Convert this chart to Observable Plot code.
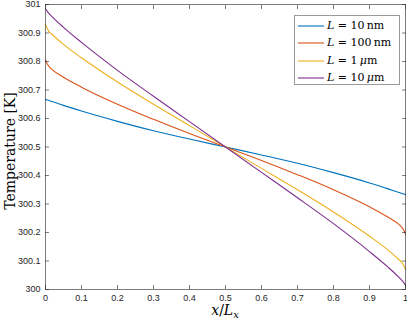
<!DOCTYPE html>
<html><head><meta charset="utf-8">
<script src="https://cdn.jsdelivr.net/npm/d3@7"></script>
<script src="https://cdn.jsdelivr.net/npm/@observablehq/plot@0.6"></script>
<style>
body{margin:0;background:#fff;}
#wrap{position:relative;width:407px;height:321px;overflow:hidden;}
.serif{font-family:"DejaVu Serif","Liberation Serif",serif;color:#000;}
#ylab{position:absolute;left:-90px;top:144px;width:200px;height:14px;line-height:14px;text-align:center;font-size:14px;transform:rotate(-90deg);white-space:nowrap;}
#xlab{position:absolute;left:175px;top:303px;width:100px;text-align:center;font-size:14px;line-height:14px;white-space:nowrap;}
#legend{position:absolute;left:294px;top:15px;width:106px;height:70px;background:#fff;border:1px solid #9a9a9a;box-sizing:border-box;}
.row{position:absolute;left:0;height:16px;width:106px;}
.row svg{position:absolute;left:3px;top:0;}
.row span.t{position:absolute;left:32px;top:0;line-height:16px;font-size:11px;white-space:nowrap;}
</style></head><body><div id="wrap"></div>
<script>
const xPos   = [0, 0.005, 0.01, 0.02, 0.05, 0.1, 0.2, 0.3, 0.4, 0.5, 0.6, 0.7, 0.8, 0.9, 0.95, 0.98, 0.99, 0.995, 1];
const T_10nm  = [300.667, 300.665, 300.663, 300.659, 300.646, 300.626, 300.590, 300.557, 300.528, 300.500, 300.472, 300.443, 300.410, 300.374, 300.354, 300.341, 300.337, 300.335, 300.333];
const T_100nm = [300.805, 300.791, 300.782, 300.770, 300.745, 300.710, 300.650, 300.597, 300.547, 300.500, 300.453, 300.403, 300.350, 300.290, 300.255, 300.230, 300.218, 300.209, 300.195];
const T_1um   = [300.930, 300.916, 300.905, 300.893, 300.860, 300.813, 300.728, 300.650, 300.575, 300.500, 300.425, 300.350, 300.272, 300.187, 300.140, 300.107, 300.095, 300.084, 300.070];
const T_10um  = [300.985, 300.976, 300.968, 300.955, 300.920, 300.867, 300.769, 300.678, 300.589, 300.500, 300.411, 300.322, 300.231, 300.133, 300.080, 300.045, 300.032, 300.024, 300.015];
const seriesNames = ["L = 10 nm", "L = 100 nm", "L = 1 μm", "L = 10 μm"];
const seriesHtml = ["<i>L</i> = 10&#8201;nm", "<i>L</i> = 100&#8201;nm", "<i>L</i> = 1&#8201;<i>μ</i>m", "<i>L</i> = 10&#8201;<i>μ</i>m"];
const colors = ["#0072BD", "#D95319", "#EDB120", "#7E2F8E"];
const xTicks = [0, 0.1, 0.2, 0.3, 0.4, 0.5, 0.6, 0.7, 0.8, 0.9, 1];
const yTicks = [300, 300.1, 300.2, 300.3, 300.4, 300.5, 300.6, 300.7, 300.8, 300.9, 301];

const series = [T_10nm, T_100nm, T_1um, T_10um];
const data = [];
series.forEach((arr, i) => arr.forEach((t, j) => data.push({x: xPos[j], T: t, s: seriesNames[i]})));

const axisColor = "#262626";
const plot = Plot.plot({
  width: 407, height: 321,
  marginLeft: 45, marginRight: 2, marginTop: 4, marginBottom: 32,
  style: {fontFamily: "'Liberation Sans', Arial, sans-serif", fontSize: "9px", color: "#262626", background: "#fff"},
  x: {domain: [0, 1]},
  y: {domain: [300, 301]},
  color: {domain: seriesNames, range: colors},
  marks: [
    Plot.line(data, {x: "x", y: "T", stroke: "s", z: "s", curve: "monotone-x", strokeWidth: 1.1}),
    Plot.frame({stroke: axisColor, strokeWidth: 0.6}),
    Plot.axisX({ticks: xTicks, anchor: "bottom", tickSize: 0, tickPadding: 5.5, label: null, tickFormat: d => String(d)}),
    Plot.axisY({ticks: yTicks, anchor: "left", tickSize: 0, tickPadding: 5, label: null, tickFormat: d => String(+d.toFixed(1))}),
    Plot.axisX({ticks: xTicks, anchor: "bottom", tickSize: -4, label: null, tickFormat: () => "", stroke: axisColor, strokeWidth: 0.6}),
    Plot.axisX({ticks: xTicks, anchor: "top", tickSize: -4, label: null, tickFormat: () => "", stroke: axisColor, strokeWidth: 0.6}),
    Plot.axisY({ticks: yTicks, anchor: "left", tickSize: -4, label: null, tickFormat: () => "", stroke: axisColor, strokeWidth: 0.6}),
    Plot.axisY({ticks: yTicks, anchor: "right", tickSize: -4, label: null, tickFormat: () => "", stroke: axisColor, strokeWidth: 0.6})
  ]
});
const wrap = document.getElementById("wrap");
wrap.appendChild(plot);

const ylab = document.createElement("div");
ylab.id = "ylab"; ylab.className = "serif"; ylab.textContent = "Temperature [K]";
wrap.appendChild(ylab);
const xlab = document.createElement("div");
xlab.id = "xlab"; xlab.className = "serif";
xlab.innerHTML = "<i>x</i>/<i>L</i><sub style='font-size:10px;vertical-align:-3px;line-height:0'><i>x</i></sub>";
wrap.appendChild(xlab);

const legend = document.createElement("div");
legend.id = "legend"; legend.className = "serif";
seriesHtml.forEach((h, i) => {
  const row = document.createElement("div");
  row.className = "row";
  row.style.top = (2 + i * 17.4) + "px";
  row.innerHTML = `<svg width="26" height="16"><line x1="0" x2="26" y1="8" y2="8" stroke="${colors[i]}" stroke-width="1.1"/></svg><span class="t">${h}</span>`;
  legend.appendChild(row);
});
wrap.appendChild(legend);
</script></body></html>
